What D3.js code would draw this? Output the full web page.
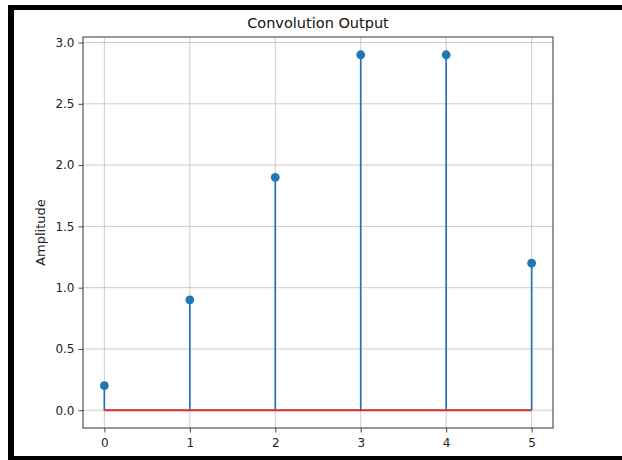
<!DOCTYPE html>
<html><head><meta charset="utf-8">
<script src="https://cdn.jsdelivr.net/npm/d3@7"></script>
<style>body{margin:0;background:#fff;}svg{display:block;}</style>
</head><body>
<svg id="c" width="622" height="460"></svg>
<script>
const xValues = [0, 1, 2, 3, 4, 5];
const amplitudes = [0.2, 0.9, 1.9, 2.9, 2.9, 1.2];
const xTicks = [0, 1, 2, 3, 4, 5];
const yTicks = [0.0, 0.5, 1.0, 1.5, 2.0, 2.5, 3.0];
const titleText = "Convolution Output";
const yLabel = "Amplitude";

const svg = d3.select("#c");
const font = "DejaVu Sans, sans-serif";

// outer frame
svg.append("rect").attr("x",0).attr("y",0).attr("width",622).attr("height",460).attr("fill","#fff");
svg.append("rect").attr("x",8).attr("y",5).attr("width",614).attr("height",5).attr("fill","#000");
svg.append("rect").attr("x",8).attr("y",5).attr("width",6).attr("height",455).attr("fill","#000");
svg.append("rect").attr("x",8).attr("y",456).attr("width",614).attr("height",4).attr("fill","#000");

const L=83, R=553, T=37, B=428;
const x = d3.scaleLinear().domain([-0.25, 5.25]).range([L, R]);
const y = d3.scaleLinear().domain([-0.145, 3.045]).range([B, T]);

const g = svg.append("g");
// grid
g.selectAll(".gx").data(xTicks).join("line")
  .attr("x1",d=>x(d)).attr("x2",d=>x(d)).attr("y1",T).attr("y2",B)
  .attr("stroke","#b0b0b0").attr("stroke-opacity",0.65).attr("stroke-width",1);
g.selectAll(".gy").data(yTicks).join("line")
  .attr("x1",L).attr("x2",R).attr("y1",d=>y(d)).attr("y2",d=>y(d))
  .attr("stroke","#b0b0b0").attr("stroke-opacity",0.65).attr("stroke-width",1);

// stems
const data = xValues.map((v,i)=>({x:v,y:amplitudes[i]}));
g.selectAll(".stem").data(data).join("line")
  .attr("x1",d=>x(d.x)).attr("x2",d=>x(d.x)).attr("y1",y(0)).attr("y2",d=>y(d.y))
  .attr("stroke","#1f77b4").attr("stroke-width",1.7);
// baseline
g.append("line").attr("x1",x(xValues[0])).attr("x2",x(xValues[xValues.length-1]))
  .attr("y1",y(0)).attr("y2",y(0)).attr("stroke","#d62728").attr("stroke-width",1.9);
// markers
g.selectAll(".mk").data(data).join("circle")
  .attr("cx",d=>x(d.x)).attr("cy",d=>y(d.y)).attr("r",4.4).attr("fill","#1f77b4");

// axes
const xa = svg.append("g").attr("transform",`translate(0,${B})`)
  .call(d3.axisBottom(x).tickValues(xTicks).tickFormat(d3.format("d")).tickSize(4.5).tickPadding(5.5));
const ya = svg.append("g").attr("transform",`translate(${L},0)`)
  .call(d3.axisLeft(y).tickValues(yTicks).tickFormat(d3.format(".1f")).tickSize(4.5).tickPadding(4));
[xa,ya].forEach(a=>{
  a.select(".domain").remove();
  a.selectAll("line").attr("stroke","#333").attr("stroke-width",0.9);
  a.selectAll("text").attr("font-family",font).attr("font-size","12px").attr("fill","#222");
});
// frame
svg.append("rect").attr("x",L).attr("y",T).attr("width",R-L).attr("height",B-T)
  .attr("fill","none").attr("stroke","#333").attr("stroke-width",1);

svg.append("text").attr("x",(L+R)/2).attr("y",28).attr("text-anchor","middle")
  .attr("font-family",font).attr("font-size","14.5px").attr("fill","#111").text(titleText);
svg.append("text").attr("transform",`translate(45,${(T+B)/2}) rotate(-90)`).attr("text-anchor","middle")
  .attr("font-family",font).attr("font-size","13px").attr("fill","#222").text(yLabel);
</script>
</body></html>
